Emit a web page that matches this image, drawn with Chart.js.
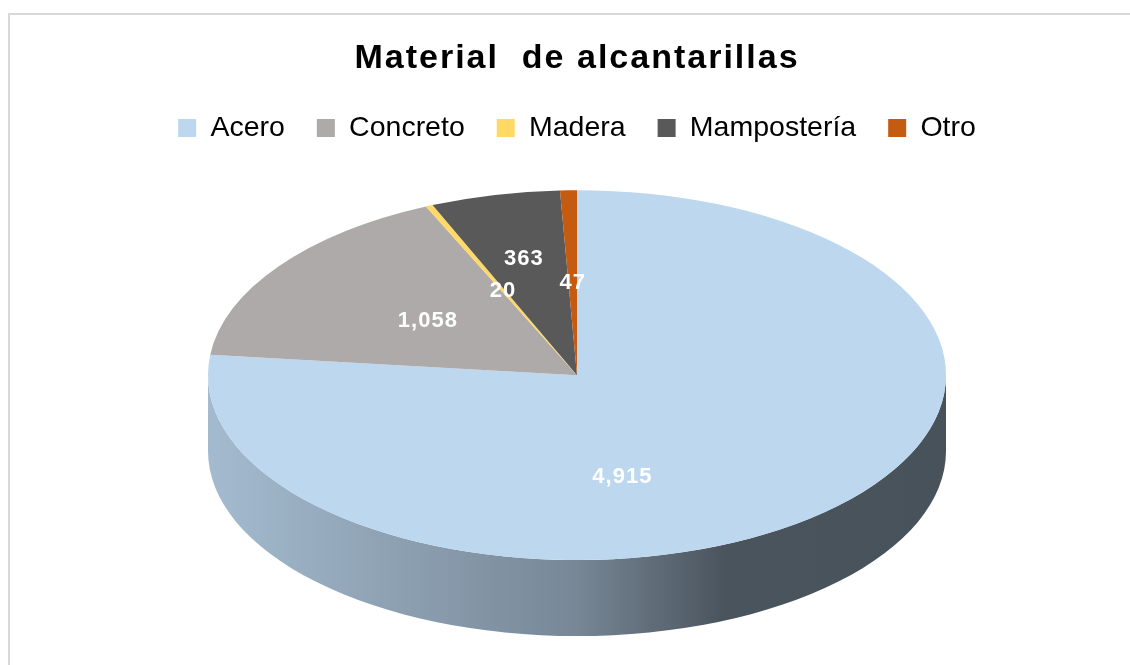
<!DOCTYPE html>
<html>
<head>
<meta charset="utf-8">
<script src="https://cdn.jsdelivr.net/npm/chart.js@4"></script>
<style>
    html, body { margin: 0; padding: 0; background: #fff; overflow: hidden; }
    #frame {
        position: absolute; left: 8px; top: 13px; width: 1200px; height: 700px;
        border-left: 2px solid #d9d9d9; border-top: 2px solid #d9d9d9;
    }
    #wrap { position: absolute; left: 0; top: 0; width: 1130px; height: 665px; }
</style>
</head>
<body>
<div id="frame"></div>
<div id="wrap"><canvas id="pieChart"></canvas></div>
<script>
// Data
const categories = ['Acero', 'Concreto', 'Madera', 'Mampostería', 'Otro'];
const counts = [4915, 1058, 20, 363, 47];
const sliceColors = ['#BDD7EE', '#AEAAAA', '#FFD966', '#595959', '#C55A11'];

const TILT = 0.501;  // vertical squash of the pie face
const DEPTH = 76;    // thickness of the 3D rim

function shade(hex, f) {
    const n = parseInt(hex.slice(1), 16);
    const r = Math.round(((n >> 16) & 255) * f);
    const g = Math.round(((n >> 8) & 255) * f);
    const b = Math.round((n & 255) * f);
    return `rgb(${r},${g},${b})`;
}

// Fake 3D: draw the rim, squash the face, then put the value labels on top
const pie3d = {
    id: 'pie3d',
    beforeDraw(chart) {
        const title = chart.titleBlock;
        if (title && !title._spaced) {
            const draw = title.draw.bind(title);
            title.draw = function(area) {
                chart.ctx.save();
                chart.ctx.letterSpacing = '2px';
                draw(area);
                chart.ctx.restore();
            };
            title._spaced = true;
        }
    },
    beforeDatasetsDraw(chart) {
        const ctx = chart.ctx;
        const arcs = chart.getDatasetMeta(0).data;
        this._squashed = false;
        if (!arcs.length) return;
        const { x: cx, y: cy, outerRadius: r } = arcs[0];
        const rx = r, ry = r * TILT;

        arcs.forEach((arc, i) => {
            const a0 = Math.max(arc.startAngle, 0);
            const a1 = Math.min(arc.endAngle, Math.PI);
            if (a1 <= a0) return;
            const base = sliceColors[i];
            const grad = ctx.createLinearGradient(cx - rx, 0, cx + rx, 0);
            grad.addColorStop(0, shade(base, 0.87));
            grad.addColorStop(0.5, shade(base, 0.63));
            grad.addColorStop(0.7, shade(base, 0.39));
            grad.addColorStop(1, shade(base, 0.38));
            ctx.beginPath();
            ctx.ellipse(cx, cy, rx, ry, 0, a0, a1);
            ctx.ellipse(cx, cy + DEPTH, rx, ry, 0, a1, a0, true);
            ctx.closePath();
            ctx.fillStyle = grad;
            ctx.fill();
        });

        ctx.save();
        ctx.translate(0, cy);
        ctx.scale(1, TILT);
        ctx.translate(0, -cy);
        this._squashed = true;
    },
    afterDatasetsDraw(chart) {
        const ctx = chart.ctx;
        if (!this._squashed) return;
        ctx.restore();

        const arcs = chart.getDatasetMeta(0).data;
        const { x: cx, y: cy, outerRadius: r } = arcs[0];
        const placed = [];
        ctx.save();
        ctx.font = 'bold 22px "Liberation Sans", Arial, sans-serif';
        ctx.letterSpacing = '1px';
        ctx.fillStyle = '#ffffff';
        ctx.textAlign = 'center';
        ctx.textBaseline = 'middle';
        arcs.forEach((arc, i) => {
            const text = counts[i].toLocaleString('en-US');
            const w = ctx.measureText(text).width;
            const h = 18;
            const span = arc.endAngle - arc.startAngle;
            const mid = arc.startAngle + span / 2;
            let d = r / 2, drop = 0;
            if (span > Math.PI) {
                // big slice: sector centroid, lowered by the visible rim
                d = 4 * r * Math.sin(span / 2) / (3 * span);
                drop = DEPTH;
            }
            let x, y;
            for (let step = 0; step < 40; step++) {
                x = cx + Math.cos(mid) * d;
                y = cy + Math.sin(mid) * d * TILT + drop;
                const box = { l: x - w / 2 - 6, r: x + w / 2 + 6, t: y - h / 2 - 6, b: y + h / 2 + 6 };
                const hit = placed.some(p => box.l < p.r && box.r > p.l && box.t < p.b && box.b > p.t);
                if (!hit) { placed.push(box); break; }
                d += 6;
            }
            ctx.fillText(text, x, y);
        });
        ctx.restore();
    }
};

Chart.defaults.font.family = '"Liberation Sans", Arial, sans-serif';

const ctx = document.getElementById('pieChart').getContext('2d');
new Chart(ctx, {
    type: 'pie',
    data: {
        labels: categories,
        datasets: [{
            label: 'Material de alcantarillas',
            data: counts,
            backgroundColor: sliceColors,
            borderWidth: 0,
            hoverOffset: 0,
            clip: false
        }]
    },
    options: {
        responsive: true,
        maintainAspectRatio: false,
        devicePixelRatio: 1,
        animation: false,
        events: [],
        radius: 369,
        layout: { padding: { left: 24, right: 0, top: 0, bottom: 67 } },
        plugins: {
            title: {
                display: true,
                text: 'Material  de alcantarillas',
                color: '#000000',
                font: { size: 34, weight: 'bold' },
                padding: { top: 38, bottom: 3 }
            },
            legend: {
                position: 'top',
                labels: {
                    color: '#000000',
                    font: { size: 28.5 },
                    boxWidth: 18,
                    boxHeight: 18,
                    padding: 32
                }
            },
            tooltip: { enabled: false }
        }
    },
    plugins: [pie3d]
});
</script>
</body>
</html>
